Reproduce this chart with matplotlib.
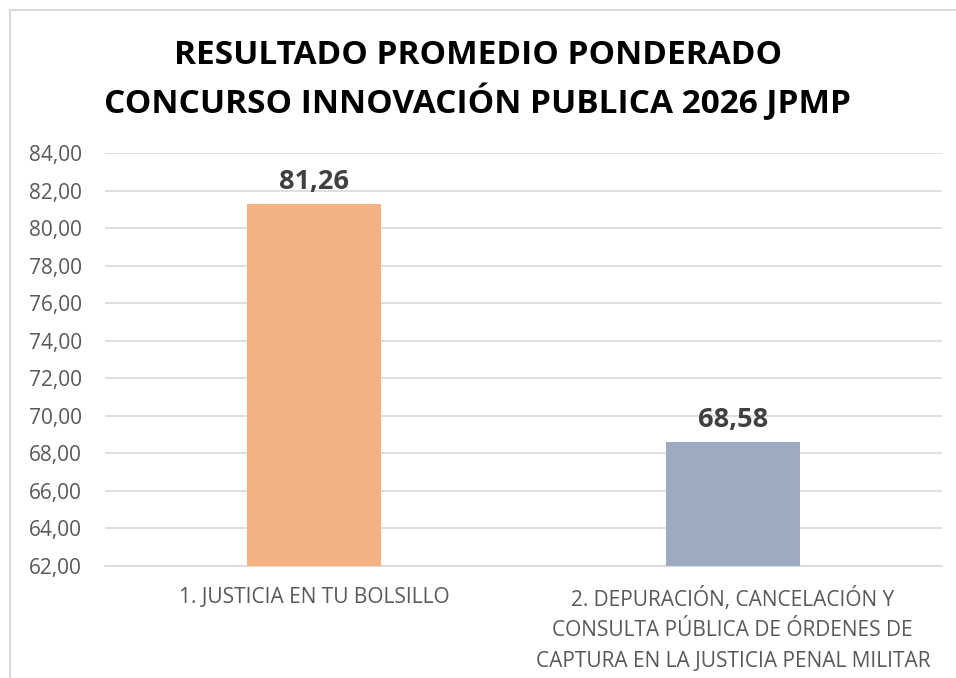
import matplotlib
matplotlib.use("Agg")
import matplotlib.pyplot as plt
from matplotlib.patches import Rectangle
from matplotlib.ticker import FuncFormatter, MultipleLocator

categories = ["1. JUSTICIA EN TU BOLSILLO",
              "2. DEPURACIÓN, CANCELACIÓN Y\nCONSULTA PÚBLICA DE ÓRDENES DE\nCAPTURA EN LA JUSTICIA PENAL MILITAR"]
values = [81.26, 68.58]
colors = ["#F4B183", "#9DAAC0"]
title = "RESULTADO PROMEDIO PONDERADO\nCONCURSO INNOVACIÓN PUBLICA 2026 JPMP"

W, H = 956, 678
fig = plt.figure(figsize=(W/100, H/100), dpi=100)
fig.patch.set_facecolor("white")

# border
fig.add_artist(Rectangle((10/W, -0.05), 1.2, 1 - 10/H + 0.05, transform=fig.transFigure,
                         fill=False, edgecolor="#D9D9D9", linewidth=1.5))

ax = fig.add_axes([105/W, 1 - 566/H, (942-105)/W, (566-153)/H])
x = list(range(len(categories)))
ax.bar(x, values, width=0.32, color=colors, zorder=3)
ax.set_xlim(-0.5, 1.5)
ax.yaxis.set_major_locator(MultipleLocator(2))
ax.yaxis.set_major_formatter(FuncFormatter(lambda v, p: f"{v:.2f}".replace(".", ",")))
ax.set_ylim(62, 84)
ax.grid(axis="y", color="#D9D9D9", linewidth=1.2, zorder=0)
for s in ["top", "right", "left"]:
    ax.spines[s].set_visible(False)
ax.spines["bottom"].set_color("#D9D9D9")
ax.spines["bottom"].set_linewidth(1.2)
ax.tick_params(axis="both", length=0, colors="#595959")
ax.tick_params(axis="y", pad=16.5, labelsize=15)
for lbl in ax.get_yticklabels():
    lbl.set_fontfamily(["Open Sans", "DejaVu Sans"])
ax.set_xticks(x)
ax.set_xticklabels(categories, fontsize=15, color="#595959",
                   family=["Open Sans", "DejaVu Sans"], linespacing=1.6)
ax.tick_params(axis="x", pad=15)
ax.set_ylim(62, 84)

for xi, v in zip(x, values):
    ax.annotate(f"{v:.2f}".replace(".", ","), (xi, v), xytext=(0, 7), textcoords="offset points",
                ha="center", va="bottom", fontsize=19.5, fontweight="bold", color="#404040",
                family=["Open Sans", "DejaVu Sans"])

fig.text(0.5, 1 - 80/H, title, ha="center", va="center", fontsize=24, fontweight="bold",
         color="black", family=["Open Sans", "DejaVu Sans"],
         linespacing=1.42)

fig.savefig("out.png", dpi=100)
